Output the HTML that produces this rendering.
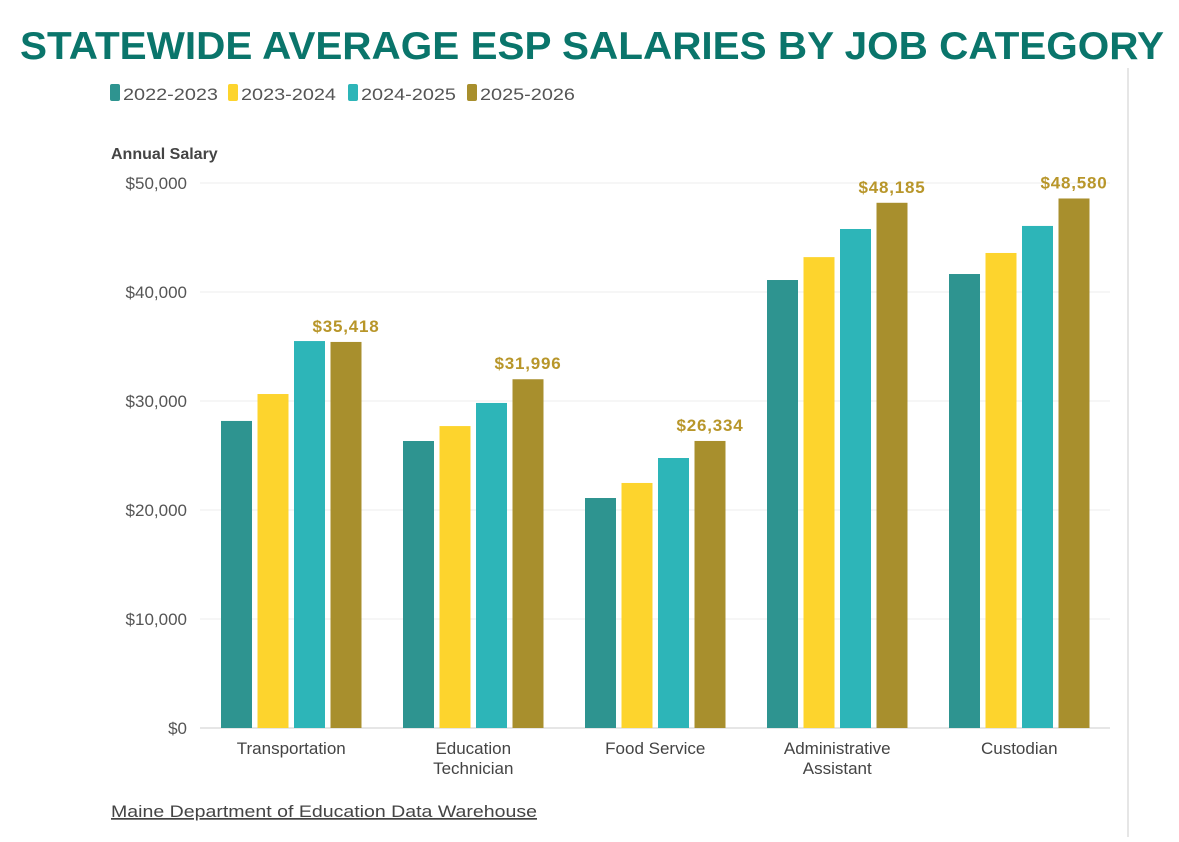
<!DOCTYPE html>
<html><head><meta charset="utf-8"><style>
body{margin:0;background:#fff;width:1179px;height:837px;overflow:hidden;font-family:"Liberation Sans",sans-serif}
</style></head><body>
<svg id="c" width="1179" height="837" xmlns="http://www.w3.org/2000/svg">
<text x="592" y="59" text-anchor="middle" font-family="Liberation Sans" font-weight="bold" font-size="39" fill="#0a756b" textLength="1144" lengthAdjust="spacingAndGlyphs">STATEWIDE AVERAGE ESP SALARIES BY JOB CATEGORY</text>
<line x1="1128" y1="68" x2="1128" y2="837" stroke="#ddd" stroke-width="1.5"/>
<text x="111" y="159" font-size="16" font-weight="bold" fill="#444">Annual Salary</text>
<g id="legend"></g>
<g id="grid"></g><g id="bars"></g><g id="labels"></g>
<text x="111" y="817" font-size="17" fill="#444" text-decoration="underline" textLength="426" lengthAdjust="spacingAndGlyphs">Maine Department of Education Data Warehouse</text>
</svg>
<script>
const categories=[["Transportation"],["Education","Technician"],["Food Service"],["Administrative","Assistant"],["Custodian"]];
const seriesNames=["2022-2023","2023-2024","2024-2025","2025-2026"];
const s2223=[28170,26330,21100,41100,41650];
const s2324=[30640,27700,22480,43200,43580];
const s2425=[35500,29820,24770,45780,46060];
const s2526=[35418,31996,26334,48185,48580];
const ticks=[0,10000,20000,30000,40000,50000];
const colors=["#2e9490","#fdd42d","#2db5b8","#a88f2d"];
const series=[s2223,s2324,s2425,s2526];
const NS="http://www.w3.org/2000/svg";
const y=v=>728-v/50000*545;
const x0=221,groupW=182,barW=31,step=36.5;
function mk(tag,attrs,parent){const e=document.createElementNS(NS,tag);for(const k in attrs)e.setAttribute(k,attrs[k]);document.getElementById(parent).appendChild(e);return e;}
ticks.forEach(t=>{
  const l=mk('line',{x1:200,x2:1110,y1:y(t),y2:y(t),stroke:t===0?'#ccc':'#ececec','stroke-width':1},'grid');
  
  
  const tx=mk('text',{x:187,y:y(t)+6,'text-anchor':'end','font-size':17,fill:'#555'},'grid');
  tx.textContent='$'+t.toLocaleString('en-US');
  
  
});
categories.forEach((c,i)=>{
  series.forEach((s,j)=>{
    const r=mk('rect',{x:x0+i*groupW+j*step,y:y(s[i]),width:barW,height:y(0)-y(s[i]),fill:colors[j]},'bars');
    
    
  });
  const gx=x0+i*groupW+3*step+barW/2;
  const lb=mk('text',{x:gx,y:y(s2526[i])-10,'text-anchor':'middle','font-size':17,'font-weight':'bold',fill:'#b8962a','letter-spacing':'0.8'},'labels');
  lb.textContent='$'+s2526[i].toLocaleString('en-US');
  
  
  const cx=x0+i*groupW+(3*step+barW)/2;
  c.forEach((line,k)=>{
    const t=mk('text',{x:cx,y:754+k*20,'text-anchor':'middle','font-size':17,fill:'#444'},'labels');
    t.textContent=line;
    
    
  });
});
const lx=[110,228,348,467];
seriesNames.forEach((n,j)=>{
  const r=mk('rect',{x:lx[j],y:84,width:10,height:17,rx:2,fill:colors[j]},'legend');
  
  
  const t=mk('text',{x:lx[j]+13,y:100,'font-size':17,fill:'#555',textLength:95,lengthAdjust:'spacingAndGlyphs'},'legend');
  t.textContent=n;
  
  
});
</script>
</body></html>
